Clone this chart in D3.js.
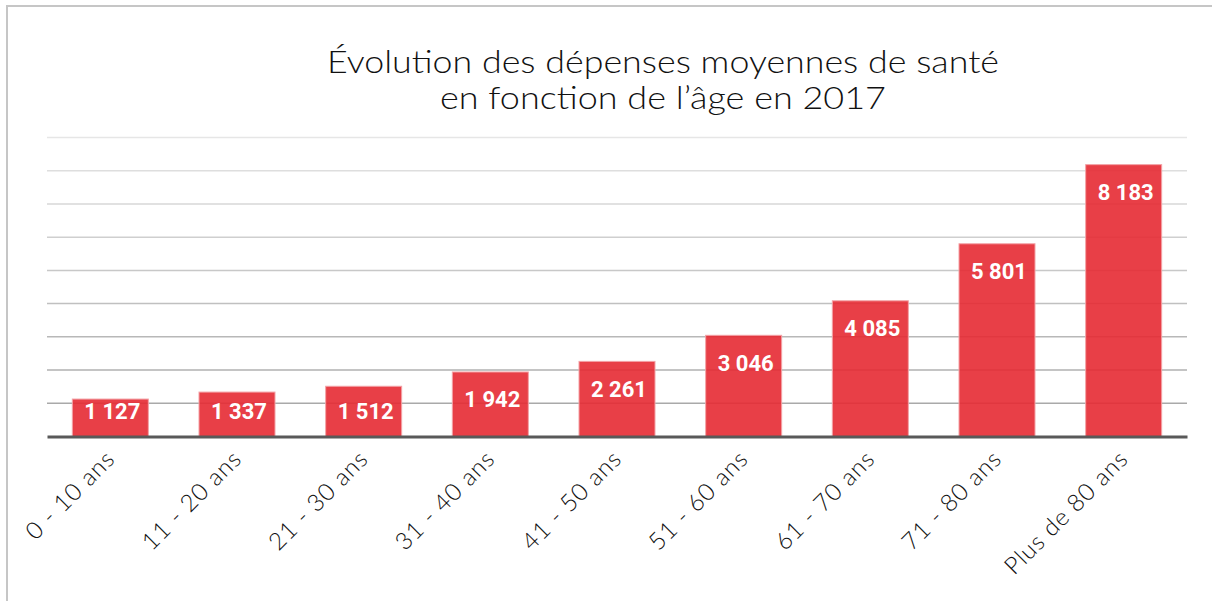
<!DOCTYPE html>
<html>
<head>
<meta charset="utf-8">
<script src="https://cdn.jsdelivr.net/npm/d3@7"></script>
<style>
  body { margin: 0; background: #fff; }
  svg { display: block; }
  .title { font-family: Lato, "Open Sans", sans-serif; font-weight: 300; font-size: 31px; fill: #111; }
  .xlab { font-family: Lato, "Open Sans", sans-serif; font-weight: 300; font-size: 24px; letter-spacing: 0.9px; fill: #111; }
  .val { font-family: Roboto, sans-serif; font-weight: 700; font-size: 22px; fill: #fff; }
</style>
</head>
<body>
<div id="chart"></div>
<script>
// données (euros par an)
var categories = ["0 - 10 ans", "11 - 20 ans", "21 - 30 ans", "31 - 40 ans", "41 - 50 ans",
                  "51 - 60 ans", "61 - 70 ans", "71 - 80 ans", "Plus de 80 ans"]
var depenses = [1127, 1337, 1512, 1942, 2261, 3046, 4085, 5801, 8183]
var gridTicks = [1000, 2000, 3000, 4000, 5000, 6000, 7000, 8000, 9000]
var titleLines = ["Évolution des dépenses moyennes de santé", "en fonction de l\u2019âge en 2017"]

var W = 1212, H = 601
var margin = {top: 137.5, right: 25, bottom: 164.5, left: 47}
var width = W - margin.left - margin.right
var height = H - margin.top - margin.bottom

var fmt = d3.formatLocale({decimal: ",", thousands: "\u00a0", grouping: [3], currency: ["", " €"]}).format(",d")

var svg = d3.select("#chart").append("svg")
    .attr("width", W)
    .attr("height", H)

// cadre du graphique
svg.append("rect")
    .attr("x", 7).attr("y", 6)
    .attr("width", W + 20).attr("height", H + 20)
    .attr("fill", "none")
    .attr("stroke", "#c6c6c6")
    .attr("stroke-width", 2)

// titre
svg.append("g").selectAll("text")
    .data(titleLines)
    .enter().append("text")
    .attr("class", "title")
    .attr("x", 663)
    .attr("y", function(d, i) { return 73 + i * 36 })
    .attr("text-anchor", "middle")
    .attr("textLength", function(d, i) { return i == 0 ? 672 : 446 })
    .attr("lengthAdjust", "spacingAndGlyphs")
    .text(function(d) { return d })

var g = svg.append("g").attr("transform", "translate(" + margin.left + "," + margin.top + ")")

var x = d3.scaleBand().domain(categories).range([0, width]).paddingInner(0.4).paddingOuter(0.2)
var y = d3.scaleLinear().domain([0, 9000]).range([height, 0])

var gridColor = d3.scaleLinear().domain([9000, 1000]).range(["#e6e6e6", "#a9a9a9"])

// quadrillage
g.append("g").attr("class", "grid")
    .selectAll("line")
    .data(gridTicks)
    .enter().append("line")
    .attr("x1", 0).attr("x2", width)
    .attr("y1", function(d) { return y(d) }).attr("y2", function(d) { return y(d) })
    .attr("stroke", function(d) { return gridColor(d) })
    .attr("stroke-width", 1.5)

// barres
g.selectAll(".bar")
    .data(depenses)
    .enter().append("rect")
    .attr("class", "bar")
    .attr("x", function(d, i) { return x(categories[i]) })
    .attr("y", function(d) { return y(d) })
    .attr("width", x.bandwidth())
    .attr("height", function(d) { return y(0) - y(d) })
    .attr("fill", "#e52a33")
    .attr("fill-opacity", 0.9)
    .attr("stroke", "#f3a2a6")
    .attr("stroke-width", 1)

// étiquettes de valeurs
g.selectAll(".val")
    .data(depenses)
    .enter().append("text")
    .attr("class", "val")
    .attr("x", function(d, i) { return x(categories[i]) + x.bandwidth() / 2 + 2 })
    .attr("y", function(d) { return Math.min(y(d) + 35.5, y(0) - 18) })
    .attr("text-anchor", "middle")
    .text(function(d) { return fmt(d) })

// axe horizontal
var xAxis = d3.axisBottom(x).tickSize(0).tickPadding(0)
var ax = g.append("g")
    .attr("transform", "translate(0," + height + ")")
    .call(xAxis)
ax.select(".domain").attr("stroke", "#595959").attr("stroke-width", 3)
ax.selectAll(".tick text")
    .attr("class", "xlab")
    .attr("text-anchor", "end")
    .attr("dy", null)
    .attr("y", 0)
    .attr("transform", "translate(6,24) rotate(-45)")
    .attr("font-family", null).attr("font-size", null)
</script>
</body>
</html>
